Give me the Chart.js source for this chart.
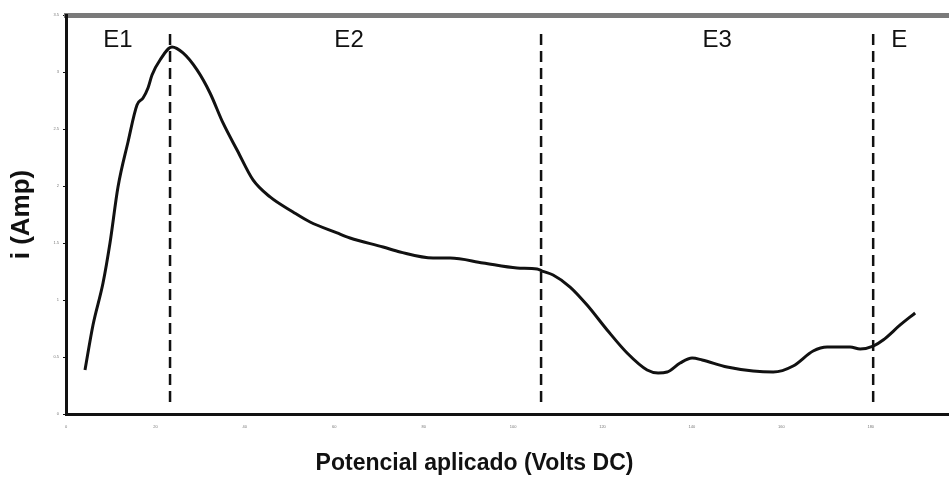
<!DOCTYPE html>
<html>
<head>
<meta charset="utf-8">
<script src="https://cdn.jsdelivr.net/npm/chart.js@4.4.1/dist/chart.umd.min.js"></script>
<style>
  html, body { margin: 0; padding: 0; background: #fff; }
  #wrap { width: 949px; height: 480px; position: relative; }
</style>
</head>
<body>
<div id="wrap"><canvas id="c"></canvas></div>
<script>
// ---- data ----
const potential = [4.25, 6.04, 8.28, 9.84, 11.63, 13.87, 15.88, 17.23, 18.34, 19.24, 21.03, 23.71, 26.17, 29.31, 32.21, 35.12, 38.26, 41.83, 45.64, 50.78, 54.59, 60.63, 63.53, 70.92, 74.72, 82.10, 85.91, 93.29, 100.89, 105.37, 106.49, 108.95, 112.75, 116.55, 121.03, 125.50, 129.98, 132.44, 134.45, 137.36, 140.04, 142.28, 147.87, 153.69, 158.17, 162.64, 167.11, 170.25, 175.39, 177.63, 180.54, 182.77, 186.58, 189.93];
const current = [0.386, 0.781, 1.149, 1.500, 1.991, 2.386, 2.711, 2.772, 2.860, 2.974, 3.105, 3.219, 3.167, 3.018, 2.816, 2.553, 2.316, 2.053, 1.904, 1.772, 1.684, 1.588, 1.544, 1.465, 1.421, 1.368, 1.368, 1.325, 1.281, 1.272, 1.254, 1.219, 1.114, 0.956, 0.737, 0.535, 0.386, 0.360, 0.368, 0.447, 0.491, 0.474, 0.412, 0.377, 0.368, 0.421, 0.553, 0.588, 0.588, 0.570, 0.596, 0.649, 0.781, 0.886];
const stageBoundaries = [23.27, 106.26, 180.54];
const boundaryRange = [0.105, 3.386];
const stageLabels = ['E1', 'E2', 'E3', 'E'];
const stageLabelX = [11.63, 63.31, 145.64, 186.35];
const stageLabelY = 3.28;
const xTickLabels = ['0', '20', '40', '60', '80', '100', '120', '140', '160', '180'];
const yTickLabels = ['0', '0.5', '1', '1.5', '2', '2.5', '3', '3.5'];
const xMax = 197.5;
const yMax = 3.5;

const curve = potential.map((x, i) => ({ x: x, y: current[i] }));

const datasets = [{
  data: curve,
  borderColor: '#111',
  borderWidth: 3,
  pointRadius: 0,
  cubicInterpolationMode: 'monotone',
  fill: false
}];
stageBoundaries.forEach(b => {
  datasets.push({
    data: [{ x: b, y: boundaryRange[0] }, { x: b, y: boundaryRange[1] }],
    borderColor: '#111',
    borderWidth: 2.5,
    borderDash: [11, 6],
    pointRadius: 0,
    fill: false
  });
});

const stageLabelPlugin = {
  id: 'stageLabels',
  afterDatasetsDraw(chart) {
    const { ctx, scales: { x, y } } = chart;
    ctx.save();
    ctx.font = '24px "Liberation Sans", Arial, sans-serif';
    ctx.fillStyle = '#111';
    ctx.textAlign = 'center';
    ctx.textBaseline = 'middle';
    stageLabels.forEach((t, i) => {
      ctx.fillText(t, x.getPixelForValue(stageLabelX[i]), y.getPixelForValue(stageLabelY));
    });
    ctx.restore();
  }
};

new Chart(document.getElementById('c'), {
  type: 'line',
  data: { datasets: datasets },
  plugins: [stageLabelPlugin],
  options: {
    responsive: true,
    maintainAspectRatio: false,
    animation: false,
    layout: { padding: { top: 15, right: 0, left: 0, bottom: 0 } },
    plugins: {
      legend: { display: false },
      tooltip: { enabled: false },
      title: {
        display: true,
        position: 'bottom',
        text: 'Potencial aplicado (Volts DC)',
        color: '#111',
        font: { family: '"Liberation Sans", Arial, sans-serif', size: 23, weight: 'bold', lineHeight: 28 / 23 },
        padding: { top: 0, bottom: 2 }
      }
    },
    scales: {
      x: {
        type: 'linear',
        min: 0,
        max: xMax,
        afterFit: s => { s.height = 36; },
        border: { display: true, color: '#111', width: 3 },
        grid: { display: true, drawOnChartArea: false, drawTicks: true, tickLength: 2, color: '#111' },
        ticks: {
          stepSize: 20,
          includeBounds: false,
          autoSkip: false,
          maxRotation: 0,
          color: '#777',
          font: { size: 4 },
          padding: 8,
          callback: (v, i) => xTickLabels[i]
        }
      },
      xTop: {
        type: 'linear',
        position: 'top',
        min: 0,
        max: xMax,
        afterFit: s => { s.height = 0; },
        border: { display: true, color: '#7a7a7a', width: 5 },
        grid: { display: false, drawTicks: false },
        ticks: { display: false }
      },
      y: {
        type: 'linear',
        min: 0,
        max: yMax,
        afterFit: s => { s.width = 66; },
        border: { display: true, color: '#111', width: 3 },
        grid: { display: true, drawOnChartArea: false, drawTicks: true, tickLength: 3, color: '#111' },
        ticks: {
          stepSize: 0.5,
          color: '#777',
          font: { size: 4 },
          padding: 4,
          callback: (v, i) => yTickLabels[i]
        },
        title: {
          display: true,
          text: 'i (Amp)',
          color: '#111',
          font: { family: '"Liberation Sans", Arial, sans-serif', size: 26, weight: 'bold', lineHeight: 30 / 26 },
          padding: { top: 7, bottom: 0 }
        }
      }
    }
  }
});
</script>
</body>
</html>
